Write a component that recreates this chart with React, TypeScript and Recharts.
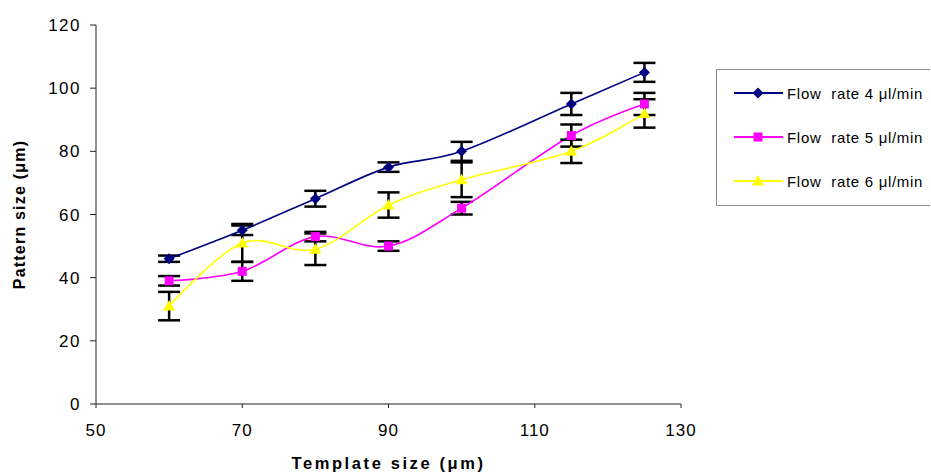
import { ErrorBar, Label, Legend, Line, LineChart, XAxis, YAxis } from 'recharts'

const templateSize = [60, 70, 80, 90, 100, 115, 125]
const flow4 = [46, 55, 65, 75, 80, 95, 105]
const flow5 = [39, 42, 53, 50, 62, 85, 95]
const flow6 = [31, 51, 49, 63, 71, 80, 92]
const err4 = [1, 1.5, 2.5, 1.5, 3, 3.5, 3]
const err5 = [1.5, 3, 1.5, 1.5, 2, 3.5, 3.5]
const err6 = [4.5, 6, 5, 4, 5.5, 3.7, 4.5]
const xTicks = [50, 70, 90, 110, 130]
const yTicks = [0, 20, 40, 60, 80, 100, 120]

const data = templateSize.map((t, i) => ({
  t,
  v4: flow4[i], v5: flow5[i], v6: flow6[i],
  e4: err4[i], e5: err5[i], e6: err6[i],
}))

// Excel-like smoothed line (Catmull-Rom, same maths as d3 curveCardinal with tension 0)
class Smooth {
  c: any; p = 0; x0 = NaN; x1 = NaN; x2 = NaN; y0 = NaN; y1 = NaN; y2 = NaN
  constructor(ctx: any) { this.c = ctx }
  areaStart() {}
  areaEnd() {}
  lineStart() { this.x0 = this.x1 = this.x2 = this.y0 = this.y1 = this.y2 = NaN; this.p = 0 }
  lineEnd() {
    if (this.p === 2) this.c.lineTo(this.x2, this.y2)
    else if (this.p === 3) this.seg(this.x1, this.y1)
  }
  seg(x: number, y: number) {
    const k = 1 / 6
    this.c.bezierCurveTo(
      this.x1 + k * (this.x2 - this.x0), this.y1 + k * (this.y2 - this.y0),
      this.x2 + k * (this.x1 - x), this.y2 + k * (this.y1 - y),
      this.x2, this.y2)
  }
  point(x: number, y: number) {
    if (this.p === 0) { this.p = 1; this.c.moveTo(x, y) }
    else if (this.p === 1) { this.p = 2; this.x1 = x; this.y1 = y }
    else { if (this.p === 2) this.p = 3; this.seg(x, y) }
    this.x0 = this.x1; this.x1 = this.x2; this.x2 = x
    this.y0 = this.y1; this.y1 = this.y2; this.y2 = y
  }
}
const smooth: any = (ctx: any) => new Smooth(ctx)

const Diamond = ({ cx, cy, fill }: any) => (
  <polygon points={`${cx},${cy - 5.5} ${cx + 5.5},${cy} ${cx},${cy + 5.5} ${cx - 5.5},${cy}`} fill={fill} />
)
const Square = ({ cx, cy, fill }: any) => <rect x={cx - 4.5} y={cy - 4.5} width={9} height={9} fill={fill} />
const Triangle = ({ cx, cy, fill }: any) => (
  <polygon points={`${cx},${cy - 6} ${cx + 6},${cy + 4.5} ${cx - 6},${cy + 4.5}`} fill={fill} />
)

const series = [
  { key: 'v4', err: 'e4', name: 'Flow  rate 4 μl/min', color: '#000080', Mark: Diamond },
  { key: 'v5', err: 'e5', name: 'Flow  rate 5 μl/min', color: '#FF00FF', Mark: Square },
  { key: 'v6', err: 'e6', name: 'Flow  rate 6 μl/min', color: '#FFFF00', Mark: Triangle },
]

const font = 'Liberation Sans, Arial, sans-serif'

const LegendBox = () => (
  <div style={{ width: 214, height: 137, border: '1px solid #8a8a8a', borderRight: 'none', boxSizing: 'border-box',
    fontFamily: font, fontSize: 15, letterSpacing: 0.7, color: '#000', paddingTop: 1, overflow: 'hidden' }}>
    {series.map(s => (
      <div key={s.key} style={{ display: 'flex', alignItems: 'center', height: 44 }}>
        <svg width={70} height={14} style={{ flex: 'none' }}>
          <line x1={17} x2={66} y1={7} y2={7} stroke={s.color} strokeWidth={2} />
          <s.Mark cx={41} cy={7} fill={s.color} />
        </svg>
        <span style={{ whiteSpace: 'pre' }}>{s.name}</span>
      </div>
    ))}
  </div>
)

const App = () => {
  return (
    <div style={{ position: 'absolute', left: 0, top: 0 }}>
      {/* the vertical legend takes its own width off the right side, so the margin here is only the rest */}
      <LineChart width={931} height={473} data={data} margin={{ top: 25, right: 36, left: 0, bottom: 0 }}
        style={{ fontFamily: font }}>
        <XAxis dataKey="t" type="number" domain={[50, 130]} ticks={xTicks} height={69}
          stroke="#222" tickSize={4} tickMargin={16} tick={{ fill: '#000', fontSize: 17, letterSpacing: 1 }}>
          <Label value="Template size (μm)" position="insideBottom" offset={4}
            style={{ fontWeight: 'bold', fontSize: 16.5, letterSpacing: 2.6, fill: '#000' }} />
        </XAxis>
        <YAxis type="number" domain={[0, 120]} ticks={yTicks} width={96}
          stroke="#222" tickSize={6} tickMargin={9} tick={{ fill: '#000', fontSize: 17, letterSpacing: 1.5 }}>
          <Label value="Pattern size (μm)" angle={-90} position="insideLeft" offset={19}
            style={{ fontWeight: 'bold', fontSize: 16, letterSpacing: 1.2, fill: '#000', textAnchor: 'middle' }} />
        </YAxis>
        <Legend layout="vertical" align="right" verticalAlign="top" content={<LegendBox />}
          wrapperStyle={{ left: 716, top: 69, width: 214 }} />
        {series.map(s => (
          <Line key={s.key} dataKey={s.key} name={s.name} type={smooth} stroke={s.color} strokeWidth={1.6}
            isAnimationActive={false}
            dot={(p: any) => <s.Mark key={p.index} cx={p.cx} cy={p.cy} fill={s.color} />}>
            <ErrorBar dataKey={s.err} direction="y" width={11} stroke="#000" strokeWidth={2.5} />
          </Line>
        ))}
      </LineChart>
    </div>
  )
}

export default App
